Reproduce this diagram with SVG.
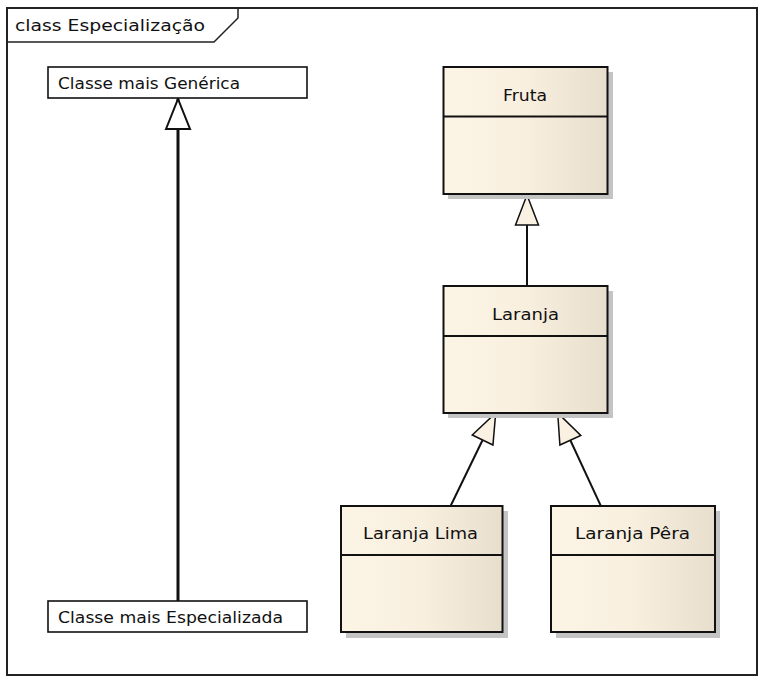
<svg xmlns="http://www.w3.org/2000/svg" width="765" height="683" viewBox="0 0 765 683">
<style>
.frame{fill:#fff;stroke:#222;stroke-width:2}
.tab{fill:none;stroke:#222;stroke-width:1.5}
.note{fill:#fff;stroke:#111;stroke-width:1.6}
.cls{fill:url(#g);stroke:#111;stroke-width:2}
.shadow{fill:#c4c4c4}
.div{stroke:#111;stroke-width:2}
.t{font-family:"DejaVu Sans","Liberation Sans",sans-serif;font-size:15px;fill:#111}
.c{text-anchor:middle}
.gen{stroke:#111;stroke-width:2;fill:none}
.thick{stroke-width:3}
</style>
<defs>
<linearGradient id="g" x1="0" y1="0" x2="1" y2="0">
<stop offset="0" stop-color="#fcf4e5"/>
<stop offset="0.5" stop-color="#f8efdf"/>
<stop offset="1" stop-color="#e8dece"/>
</linearGradient>
<marker id="triW" viewBox="-2 -2 34 28" refX="30" refY="12" markerWidth="34" markerHeight="28" markerUnits="userSpaceOnUse" orient="auto">
<path d="M0,0 L30,12 L0,24 Z" fill="#fff" stroke="#111" stroke-width="2"/>
</marker>
<marker id="triC" viewBox="-2 -2 34 26" refX="30" refY="11.5" markerWidth="34" markerHeight="26" markerUnits="userSpaceOnUse" orient="auto">
<path d="M0,0 L30,11.5 L0,23 Z" fill="#faf1e2" stroke="#111" stroke-width="1.5"/>
</marker>
</defs>
<rect x="0" y="0" width="765" height="683" fill="#fff"/>
<g id="frame">
<rect class="frame" x="7" y="8" width="750" height="667"/>
<polyline class="tab" points="7,42 214,42 238,18 238,8"/>
<text class="t" x="15" y="31" textLength="190" lengthAdjust="spacingAndGlyphs">class Especialização</text>
</g>
<g id="connectors">
<line class="gen thick" x1="178" y1="601" x2="178" y2="99" marker-end="url(#triW)"/>
<line class="gen" x1="527" y1="286" x2="527" y2="195" marker-end="url(#triC)"/>
<line class="gen" x1="450.7" y1="505.7" x2="495.7" y2="413" marker-end="url(#triC)"/>
<line class="gen" x1="600.7" y1="505.7" x2="557.7" y2="413" marker-end="url(#triC)"/>
</g>
<g id="generica">
<rect class="note" x="48" y="67" width="259" height="31"/>
<text class="t" x="58" y="89" textLength="182" lengthAdjust="spacingAndGlyphs">Classe mais Genérica</text>
</g>
<g id="especializada">
<rect class="note" x="48" y="601" width="259" height="31"/>
<text class="t" x="58" y="623" textLength="225" lengthAdjust="spacingAndGlyphs">Classe mais Especializada</text>
</g>
<g id="fruta">
<rect class="shadow" x="448" y="72" width="165" height="127"/>
<rect class="cls" x="443.5" y="67" width="164" height="127"/>
<line class="div" x1="443.5" y1="116.5" x2="607.5" y2="116.5"/>
<text class="t c" x="525" y="101" textLength="44" lengthAdjust="spacingAndGlyphs">Fruta</text>
</g>
<g id="laranja">
<rect class="shadow" x="448" y="291" width="165" height="127"/>
<rect class="cls" x="443.5" y="286" width="164" height="127"/>
<line class="div" x1="443.5" y1="336" x2="607.5" y2="336"/>
<text class="t c" x="525.5" y="320" textLength="67" lengthAdjust="spacingAndGlyphs">Laranja</text>
</g>
<g id="laranja-lima">
<rect class="shadow" x="346" y="511" width="162" height="127"/>
<rect class="cls" x="341" y="506" width="161.5" height="126"/>
<line class="div" x1="341" y1="555" x2="502.5" y2="555"/>
<text class="t c" x="420.5" y="539" textLength="115" lengthAdjust="spacingAndGlyphs">Laranja Lima</text>
</g>
<g id="laranja-pera">
<rect class="shadow" x="556" y="511" width="164" height="127"/>
<rect class="cls" x="551" y="506" width="164" height="126"/>
<line class="div" x1="551" y1="555" x2="715" y2="555"/>
<text class="t c" x="632.5" y="539" textLength="115" lengthAdjust="spacingAndGlyphs">Laranja Pêra</text>
</g>
</svg>
